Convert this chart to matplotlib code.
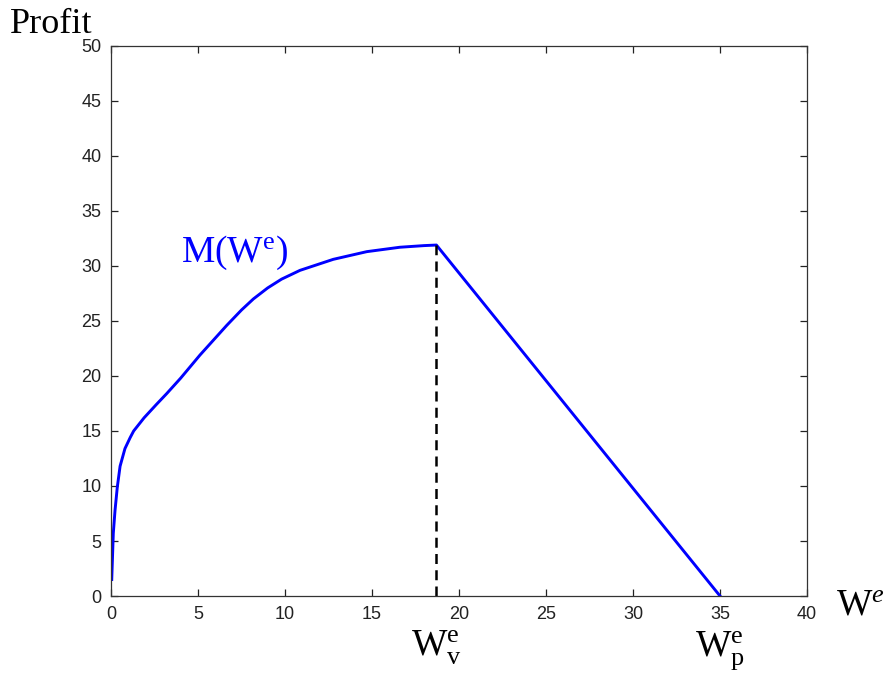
import matplotlib
matplotlib.use('Agg')
import matplotlib.pyplot as plt
import numpy as np

# profit curve M(W^e)
w_up = [0.04, 0.13, 0.23, 0.36, 0.52, 0.8, 1.1, 1.3, 1.6, 1.9, 2.6, 3.2, 4.0, 5.11,
        6.65, 7.5, 8.18, 9.0, 9.8, 10.86, 12.77, 14.7, 16.6, 18.0, 18.7]
p_up = [1.5, 5.7, 7.8, 9.9, 11.8, 13.4, 14.4, 15.0, 15.6, 16.2, 17.4, 18.4, 19.8, 21.9,
        24.6, 26.0, 27.0, 28.0, 28.8, 29.6, 30.6, 31.3, 31.7, 31.85, 31.9]
w_down = [18.7, 35.0]
p_down = [31.9, 0.0]
w_v = 18.7
w_p = 35.0

plt.rcParams['mathtext.fontset'] = 'custom'
plt.rcParams['mathtext.rm'] = 'Liberation Serif'
plt.rcParams['mathtext.it'] = 'Liberation Serif:italic'

fig = plt.figure(figsize=(8.89, 6.75), dpi=100)
ax = fig.add_axes([0.1249, 0.117, 0.7829, 0.815])

ax.plot(w_up + w_down[1:], p_up + p_down[1:], color='#0000ff', lw=2.1,
        solid_joinstyle='round')
ax.plot([w_v, w_v], [0, p_up[-1]], color='black', lw=1.8, ls=(0, (4, 2.5)))

ax.set_xlim(0, 40)
ax.set_ylim(0, 50)
ax.set_xticks(np.arange(0, 41, 5))
ax.set_yticks(np.arange(0, 51, 5))
ax.tick_params(direction='in', top=True, right=True, length=5, width=0.9,
               labelsize=13, colors='#222222', pad=7)
for lab in ax.get_xticklabels() + ax.get_yticklabels():
    lab.set_family('Liberation Sans')
for s in ax.spines.values():
    s.set_color('#333333')
    s.set_linewidth(0.9)

fig.text(10 / 889, 1 - 33 / 675, 'Profit', family='Liberation Serif', fontsize=26)
fig.text(836 / 889, 1 - 615 / 675, r'$\mathrm{W}^{e}$', fontsize=27)
ax.text(w_v, -3.0, r'$\mathrm{W}_{\mathrm{v}}^{\mathrm{e}}$', fontsize=27,
        ha='center', va='top')
ax.text(w_p, -3.0, r'$\mathrm{W}_{\mathrm{p}}^{\mathrm{e}}$', fontsize=27,
        ha='center', va='top')
ax.text(4.0, 30.4, r'$\mathrm{M(W^{e})}$', fontsize=27, color='#0000ff')

fig.savefig('out.png', dpi=100)
